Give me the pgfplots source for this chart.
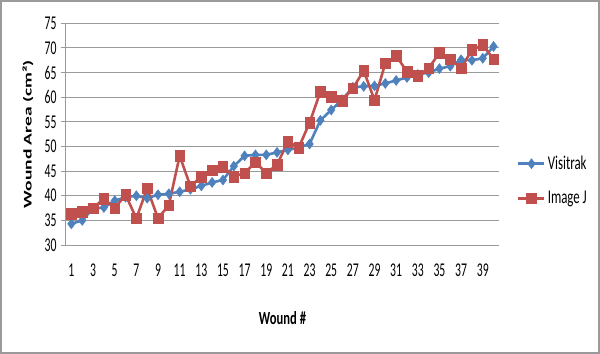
\documentclass[border=0pt]{standalone}
\usepackage{fontspec}
\setmainfont{Carlito}
\usepackage{pgfplots}
\pgfplotsset{compat=1.18}
\definecolor{vblue}{HTML}{4F81BD}
\definecolor{ired}{HTML}{C0504D}
\definecolor{gridc}{HTML}{9A9A9A}
\begin{document}
\begin{tikzpicture}
\path (-66bp,-109bp) rectangle (534bp,245bp);
\draw[gridc, line width=1.6bp] (-65.2bp,-108.2bp) rectangle (533.2bp,244.2bp);
\begin{axis}[
  at={(0,0)}, anchor=south west,
  scale only axis, width=433bp, height=221.7bp,
  xmin=0.5, xmax=40.5, ymin=30, ymax=75,
  xtick={1,3,...,39}, ytick={30,35,...,75},
  axis x line=bottom, axis y line=left,
  axis line style={-, gridc, line width=1bp},
  ymajorgrids, major grid style={gridc, line width=1bp},
  x tick style={draw=none},
  y tick style={gridc, line width=1bp},
  ytick align=outside, major tick length=5bp,
  /pgf/number format/assume math mode=true,
  tick label style={font=\fontsize{19.5bp}{22bp}\selectfont, xscale=0.6},
  xticklabel style={yshift=-13bp},
  yticklabel style={xshift=-4bp},
  xlabel={\scalebox{0.68}[1]{\bfseries Wound \#}},
  xlabel style={at={([yshift=-73bp]axis description cs:0.5,0)}, anchor=center, font=\fontsize{18.5bp}{22bp}\selectfont},
  ylabel={\scalebox{1}[0.6]{\bfseries Wound Area (cm²)}},
  ylabel style={at={([xshift=-38bp]axis description cs:0,0.5)}, anchor=center, rotate=0, font=\fontsize{19.5bp}{22bp}\selectfont},
  legend style={at={([xshift=18bp]axis description cs:1,0.29)}, anchor=west, draw=none, fill=none,
    font=\fontsize{19.5bp}{22bp}\selectfont, row sep=16bp, inner sep=0pt},
  legend cell align=left,
  legend image code/.code={\draw[mark repeat=2,mark phase=2,#1] plot coordinates {(0bp,0bp) (13bp,0bp) (26bp,0bp)};},
  clip=false,
]
\addplot[vblue, line width=2.6bp, mark=diamond*, mark size=5bp, mark options={solid, fill=vblue, draw=vblue, line width=0.5bp}]
coordinates {
(1,34.3) (2,35.0) (3,37.4) (4,37.6) (5,39.0) (6,39.7) (7,40.0) (8,39.5) (9,40.2) (10,40.4)
(11,40.8) (12,41.3) (13,42.0) (14,42.7) (15,43.2) (16,46.0) (17,48.1) (18,48.3) (19,48.3) (20,48.8)
(21,49.3) (22,49.8) (23,50.5) (24,55.3) (25,57.4) (26,59.5) (27,62.0) (28,62.2) (29,62.3) (30,62.8)
(31,63.4) (32,64.0) (33,64.6) (34,65.0) (35,65.8) (36,66.3) (37,67.6) (38,67.5) (39,67.9) (40,70.3)
};
\addlegendentry{\scalebox{0.66}[1]{Visitrak}}
\addplot[ired, line width=2.6bp, mark=square*, mark size=5.3bp, mark options={solid, fill=ired, draw=ired, line width=0.5bp, xscale=0.9}]
coordinates {
(1,36.3) (2,36.8) (3,37.5) (4,39.4) (5,37.5) (6,40.2) (7,35.4) (8,41.5) (9,35.4) (10,38.1)
(11,48.1) (12,41.9) (13,43.9) (14,45.2) (15,45.9) (16,43.9) (17,44.6) (18,46.8) (19,44.6) (20,46.3)
(21,51.0) (22,49.8) (23,54.8) (24,61.1) (25,60.1) (26,59.3) (27,61.8) (28,65.4) (29,59.4) (30,66.9)
(31,68.4) (32,65.2) (33,64.3) (34,65.9) (35,69.0) (36,67.7) (37,65.9) (38,69.6) (39,70.6) (40,67.7)
};
\addlegendentry{\scalebox{0.66}[1]{Image J}}
\end{axis}
\end{tikzpicture}
\end{document}
